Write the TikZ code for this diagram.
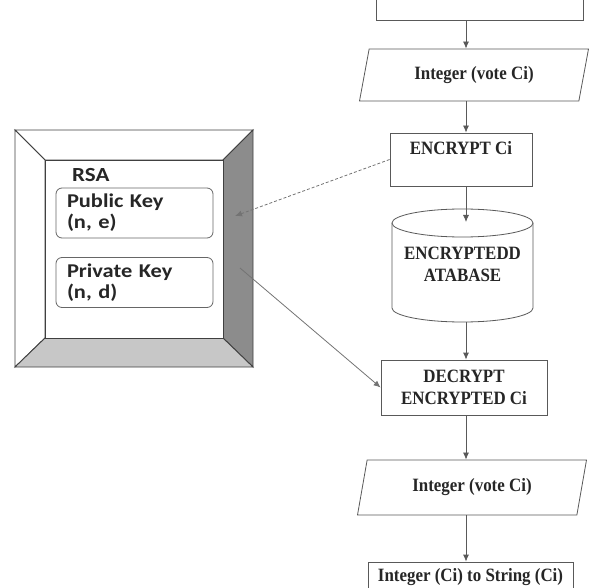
\documentclass[tikz,border=0pt]{standalone}
\usepackage{fontspec}
\setmainfont{Liberation Serif}[FakeStretch=0.9]
\newfontfamily\keyfont{Carlito}[FakeStretch=1.15]
\usetikzlibrary{shapes.geometric,arrows.meta}

\tikzset{
  flowline/.style={draw=black!65, line width=0.8pt},
  flowtext/.style={font=\bfseries\fontsize{18.8}{22}\selectfont, text=black!85},
  procbox/.style={flowline, flowtext, rectangle, fill=white, align=center, inner sep=0pt},
  iobox/.style={flowline, flowtext, trapezium, trapezium left angle=68,
    trapezium right angle=112, trapezium stretches body, fill=white,
    minimum width=229, minimum height=52},
  keybox/.style={draw=black!60, line width=0.8pt, rounded corners=6pt,
    font=\keyfont\bfseries\fontsize{19.5}{21}\selectfont, text=black!85,
    align=left, text width=135, inner xsep=11, minimum height=50},
  arr/.style={flowline, -{Latex[length=7pt,width=6pt]}},
}

\begin{document}
\begin{tikzpicture}[x=1pt,y=-1pt]
  \useasboundingbox (0,0) rectangle (589,588);
  \clip (0,0) rectangle (589,588);

  % RSA frame
  \begin{scope}[draw=black!75, line width=0.9pt]
    \filldraw[fill=white] (15,130) -- (253,130) -- (223,160) -- (45,160) -- cycle;
    \filldraw[fill=white] (15,130) -- (45,160) -- (45,338) -- (15,367) -- cycle;
    \filldraw[fill=black!45] (253,130) -- (253,367) -- (223,338) -- (223,160) -- cycle;
    \filldraw[fill=black!22] (15,367) -- (253,367) -- (223,338) -- (45,338) -- cycle;
    \filldraw[fill=white] (45,160) rectangle (223,338);
  \end{scope}
  \node[anchor=west, inner sep=0pt, font=\keyfont\bfseries\fontsize{20}{21}\selectfont,
    text=black!85] (rsa) at (72,175) {RSA};
  \node[keybox] (pubkey) at (134.5,213) {Public Key\\(n, e)};
  \node[keybox] (privkey) at (134.5,282.5) {Private Key\\(n, d)};
  \coordinate (pubtip) at (235,216);
  \coordinate (privtail) at (240,268);

  % database drum
  \filldraw[flowline, fill=white] (392,223) -- (392,308)
    arc[start angle=180, end angle=360, x radius=70.5pt, y radius=14pt] -- (533,223);
  \filldraw[flowline, fill=white] (462.5,223) ellipse[x radius=70.5pt, y radius=14pt];
  \coordinate (dbtop) at (462.5,222);
  \coordinate (dbbot) at (462.5,322);

  % flow
  \coordinate (axis) at (466,0);
  \node[procbox, minimum width=207, minimum height=40] (vote) at (479.5,0) {};
  \node[iobox] (votein) at (474,75) {Integer (vote Ci)};
  \node[procbox, minimum width=142, text height=22, text depth=31] (enc) at (461,159.5) {ENCRYPT Ci};
  \node[flowtext, align=center, inner sep=0pt] (db) at (462.5,264.5) {ENCRYPTEDD\\ATABASE};
  \node[procbox, minimum width=166, minimum height=55] (dec) at (464,387.5) {DECRYPT\\ENCRYPTED Ci};
  \node[iobox, minimum height=55] (voteout) at (472,487.5) {Integer (vote Ci)};
  \node[procbox, minimum width=205, minimum height=30] (tostr) at (470.5,577) {Integer (Ci) to String (Ci)};

  \draw[arr] (vote.south -| axis) -- (votein.north -| axis);
  \draw[arr] (votein.south -| axis) -- (enc.north -| axis);
  \draw[arr] (enc.south -| axis) -- (dbtop -| axis);
  \draw[arr] (dbbot -| axis) -- (dec.north -| axis);
  \draw[arr] (dec.south -| axis) -- (voteout.north -| axis);
  \draw[arr] (voteout.south -| axis) -- (tostr.north -| axis);

  \draw[arr, densely dashed, draw=black!55] (enc.west) -- (pubtip);
  \draw[arr, draw=black!55] (privtail) -- (dec.west);
\end{tikzpicture}
\end{document}
